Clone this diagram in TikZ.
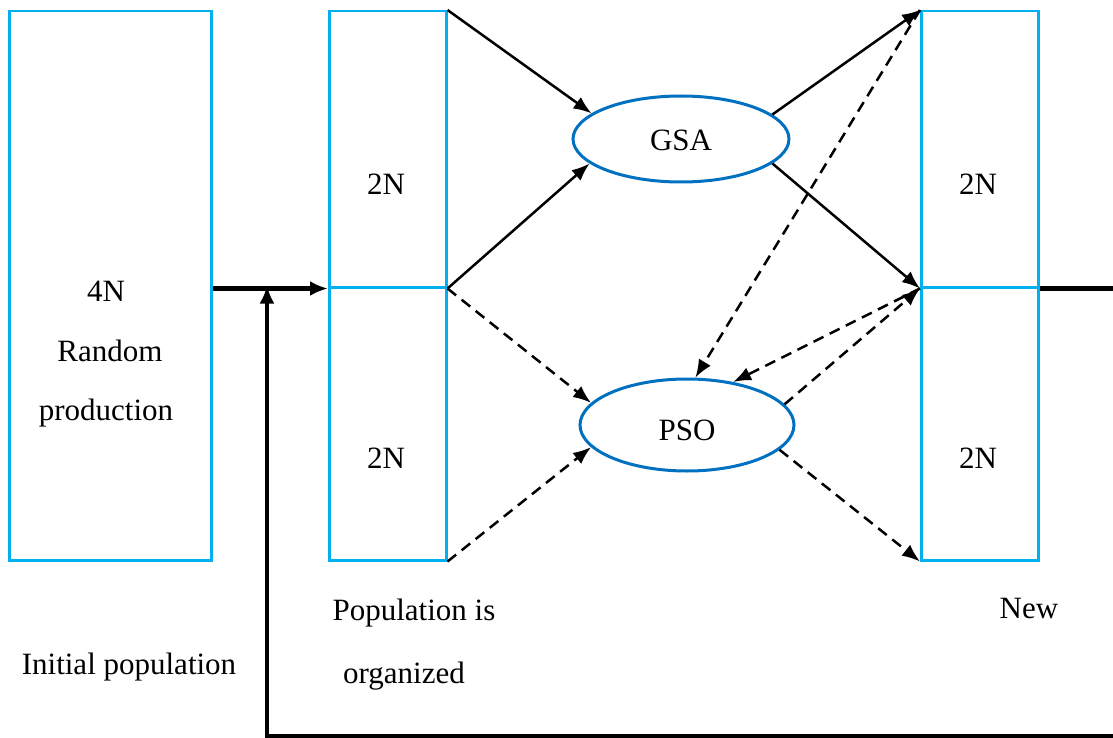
\documentclass[tikz,border=0pt]{standalone}
\usepackage{fontspec}
\setmainfont{Liberation Serif}
\usetikzlibrary{shapes.geometric,arrows.meta}
\definecolor{boxblue}{RGB}{0,176,240}
\definecolor{ellblue}{RGB}{0,112,192}
\begin{document}
\begin{tikzpicture}[x=1pt,y=-1pt,
  box/.style={draw=boxblue,line width=2.5pt,rectangle,inner sep=0pt,anchor=north west},
  ell/.style={draw=ellblue,line width=3pt,ellipse,inner sep=0pt},
  lbl/.style={font=\fontsize{31}{36}\selectfont,inner sep=0pt},
  arr/.style={line width=2.5pt,-{Latex[length=18pt,width=14pt]}},
  darr/.style={arr,dash pattern=on 11pt off 7pt},
  tarr/.style={line width=4.5pt,-{Latex[length=18pt,width=15pt]}},
  tline/.style={line width=4.5pt}]
\useasboundingbox (0,0) rectangle (1113,738);
% boxes
\node[box,minimum width=202pt,minimum height=549pt] (b1) at (8,10) {};
\node[box,minimum width=117pt,minimum height=276pt] (b2t) at (328,10) {};
\node[box,minimum width=117pt,minimum height=273pt] (b2b) at (328,286) {};
\node[box,minimum width=117pt,minimum height=276pt] (b3t) at (920,10) {};
\node[box,minimum width=117pt,minimum height=273pt] (b3b) at (920,286) {};
% ellipses
\node[ell,minimum width=216pt,minimum height=86pt] (gsa) at (681,139) {};
\node[ell,minimum width=214pt,minimum height=92pt] (pso) at (687,425) {};
% texts
\node[lbl] (t4n) at (106,291) {4N};
\node[lbl] (trand) at (110,351) {Random};
\node[lbl] (tprod) at (106,413) {production};
\node[lbl] (t2a) at (386,184) {2N};
\node[lbl] (t2b) at (386,458) {2N};
\node[lbl] (t2c) at (978,184) {2N};
\node[lbl] (t2d) at (978,458) {2N};
\node[lbl] (tgsa) at (681,140) {GSA};
\node[lbl] (tpso) at (687,430) {PSO};
\node[lbl] (tpop) at (414,613) {Population is};
\node[lbl] (torg) at (404,676) {organized};
\node[lbl] (tnew) at (1029,608) {New};
\node[lbl] (tinit) at (129,667) {Initial population};
% solid arrows
\draw[arr] (b2t.north east) -- (gsa.164);
\draw[arr] (b2t.south east) -- (gsa.195);
\draw[arr] (gsa.15) -- (b3t.north west);
\draw[arr] (gsa.345) -- (b3t.south west);
% dashed arrows
\draw[darr] (b2t.south east) -- (pso.167);
\draw[darr] (b2b.south east) -- (pso.193);
\draw[darr] (pso.12) -- (b3t.south west);
\draw[darr] (pso.345) -- (b3b.south west);
\draw[darr] (b3t.north west) -- (pso.80);
\draw[darr] (b3t.south west) -- (pso.43);
% thick flow
\draw[tarr] (b1.east |- b2t.south west) -- (b2t.south west);
\coordinate (fb1) at (1113,286);
\coordinate (fb2) at (1113,736);
\coordinate (fb3) at (267,736);
\draw[tline] (b3t.south east) -- (b3t.south east -| fb1);
\draw[tarr] (fb2) -- (fb3) -- ([yshift=3pt]fb3 |- b2t.south west);
\end{tikzpicture}
\end{document}
